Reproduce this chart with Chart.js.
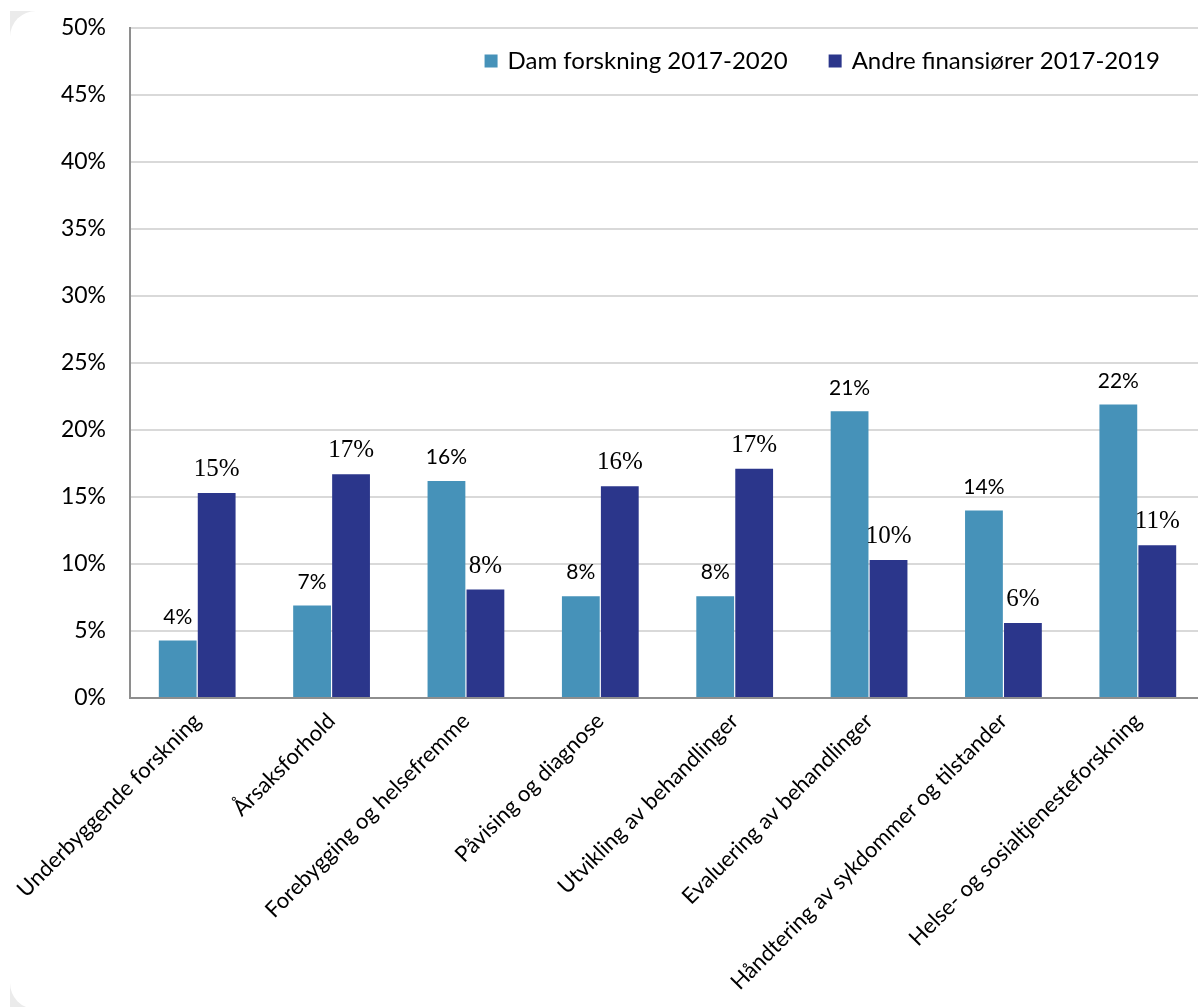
<!DOCTYPE html>
<html>
<head>
<meta charset="utf-8">
<script src="https://cdn.jsdelivr.net/npm/chart.js@4"></script>
<style>
	html, body { margin: 0; padding: 0; overflow: hidden; background: #fff; }
	#frame { position: absolute; left: 10px; top: 11px; width: 1240px; height: 998px; background: #ebebeb; }
	#panel { position: absolute; left: 10px; top: 11px; width: 1240px; height: 998px; background: #fff; border-radius: 26px 0 0 26px; }
	#chart { position: absolute; left: 0; top: 0; }
</style>
</head>
<body>
<div id="frame"></div>
<div id="panel"></div>
<canvas id="chart" width="1210" height="1007"></canvas>
<script>
// Categories and series (percent)
const categories = [
	"Underbyggende forskning",
	"Årsaksforhold",
	"Forebygging og helsefremme",
	"Påvising og diagnose",
	"Utvikling av behandlinger",
	"Evaluering av behandlinger",
	"Håndtering av sykdommer og tilstander",
	"Helse- og sosialtjenesteforskning"
];
const damValues = [4.3, 6.9, 16.2, 7.6, 7.6, 21.4, 14.0, 21.9];
const andreValues = [15.3, 16.7, 8.1, 15.8, 17.1, 10.3, 5.6, 11.4];
const seriesLabels = ["Dam forskning 2017-2020", "Andre finansiører 2017-2019"];
const yTicks = [0, 5, 10, 15, 20, 25, 30, 35, 40, 45, 50];

const sansFont = "Lato, 'Open Sans', sans-serif";
const serifFont = "'Liberation Serif', 'DejaVu Serif', serif";

// Value labels above each bar
const valueLabels = {
	id: 'valueLabels',
	afterDatasetsDraw(chart) {
		const ctx = chart.ctx;
		ctx.save();
		ctx.fillStyle = '#000';
		ctx.textAlign = 'center';
		ctx.textBaseline = 'bottom';
		chart.data.datasets.forEach((ds, di) => {
			const meta = chart.getDatasetMeta(di);
			ctx.font = di === 0 ? `21px ${sansFont}` : `25px ${serifFont}`;
			const lift = di === 0 ? 13 : 11;
			meta.data.forEach((bar, i) => {
				ctx.fillText(Math.round(ds.data[i]) + '%', bar.x, bar.y - lift);
			});
		});
		ctx.restore();
	}
};

// Legend drawn inside the plot area, top right
const insideLegend = {
	id: 'insideLegend',
	afterDraw(chart) {
		const ctx = chart.ctx;
		const area = chart.chartArea;
		ctx.save();
		ctx.font = `24px ${sansFont}`;
		ctx.textBaseline = 'middle';
		ctx.textAlign = 'left';
		const box = 13, gap = 10, itemGap = 41;
		const y = 61;
		let x = area.right - 45;
		const items = chart.data.datasets.slice().reverse();
		items.forEach(ds => {
			const w = ctx.measureText(ds.label).width;
			x -= w;
			ctx.fillStyle = '#000';
			ctx.fillText(ds.label, x, y);
			x -= gap + box;
			ctx.fillStyle = ds.backgroundColor;
			ctx.fillRect(x, y - box / 2, box, box);
			x -= itemGap;
		});
		ctx.restore();
	}
};

const chart = new Chart(document.getElementById('chart').getContext('2d'), {
	type: 'bar',
	data: {
		labels: categories,
		datasets: [
			{
				label: seriesLabels[0],
				data: damValues,
				backgroundColor: '#4692b9'
			},
			{
				label: seriesLabels[1],
				data: andreValues,
				backgroundColor: '#2b368b'
			}
		]
	},
	options: {
		responsive: false,
		animation: false,
		layout: { padding: { top: 28, right: 5, left: 0, bottom: 0 } },
		datasets: {
			bar: { categoryPercentage: 0.58, barPercentage: 0.97 }
		},
		plugins: {
			legend: { display: false },
			tooltip: { enabled: false }
		},
		scales: {
			x: {
				grid: { display: false, drawTicks: false },
				border: { display: true, color: '#8e8e8e', width: 2 },
				ticks: {
					color: '#000',
					font: { family: sansFont, size: 22 },
					minRotation: 45,
					maxRotation: 45,
					autoSkip: false,
					padding: 10
				},
				afterFit(scale) { scale.height = 309; }
			},
			y: {
				min: 0,
				max: 50,
				afterBuildTicks(scale) { scale.ticks = yTicks.map(v => ({ value: v })); },
				grid: { color: '#d9d9d9', lineWidth: 2, drawTicks: false },
				border: { display: true, color: '#8e8e8e', width: 2 },
				ticks: {
					color: '#000',
					font: { family: sansFont, size: 23 },
					padding: 24,
					callback: v => v + '%'
				},
				afterFit(scale) {
					scale.width = 130;
					scale.paddingTop = 0;
				}
			}
		}
	},
	plugins: [valueLabels, insideLegend]
});
</script>
</body>
</html>
